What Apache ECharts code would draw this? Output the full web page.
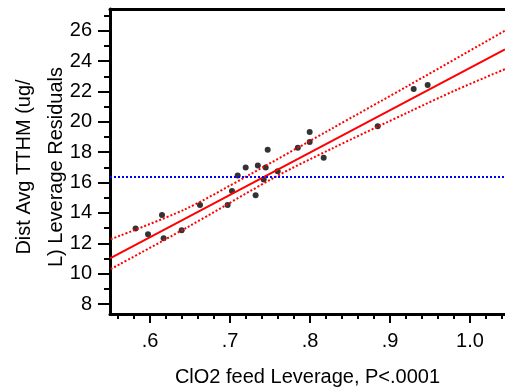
<!DOCTYPE html>
<html>
<head>
<meta charset="utf-8">
<script src="https://cdn.jsdelivr.net/npm/echarts@6/dist/echarts.min.js"></script>
<style>html,body{margin:0;padding:0;background:#fff}#c{width:505px;height:392px}</style>
</head>
<body>
<div id="c"></div>
<script>
// ---- data ----
const ptX = [0.582, 0.5975, 0.615, 0.617, 0.6396, 0.6625, 0.697, 0.7025, 0.7096, 0.7196, 0.732, 0.7348, 0.7421, 0.7446, 0.7471, 0.7596, 0.7848, 0.7996, 0.7996, 0.8171, 0.8846, 0.9296, 0.9471];
const ptY = [12.97, 12.60, 13.86, 12.33, 12.86, 14.52, 14.52, 15.44, 16.47, 17.00, 15.17, 17.13, 16.21, 17.00, 18.16, 16.75, 18.29, 19.33, 18.67, 17.63, 19.71, 22.16, 22.43];
const fitX = [0.55, 1.04375];
const fitY = [11.0, 24.78];
const upperX = [0.5509, 0.6438, 0.7209, 0.825, 0.925, 1.0438];
const upperY = [12.27, 14.24, 16.42, 19.49, 22.45, 26.01];
const lowerX = [0.5509, 0.6438, 0.7584, 0.825, 0.925, 0.9834, 1.0438];
const lowerY = [10.30, 12.97, 16.42, 18.18, 20.69, 22.12, 23.48];
const meanY = 16.41;
const xTickVals = [0.6, 0.7, 0.8, 0.9, 1.0];
const xTickLabels = ['.6', '.7', '.8', '.9', '1.0'];
const xMinorVals = [0.56, 0.58, 0.62, 0.64, 0.66, 0.68, 0.72, 0.74, 0.76, 0.78, 0.82, 0.84, 0.86, 0.88, 0.92, 0.94, 0.96, 0.98, 1.02, 1.04];
const yTickVals = [8, 10, 12, 14, 16, 18, 20, 22, 24, 26];
const yMinorVals = [9, 11, 13, 15, 17, 19, 21, 23, 25, 27];
const xTitle = 'ClO2 feed Leverage, P<.0001';
const yTitle = 'Dist Avg TTHM (ug/\nL) Leverage Residuals';

const X_MIN = 0.55, X_MAX = 1.04375, Y_MIN = 7.34, Y_MAX = 27.44;
const FONT = '"Liberation Sans", Arial, sans-serif';

const zip = (a, b) => a.map((v, i) => [v, b[i]]);

const chart = echarts.init(document.getElementById('c'), null, {renderer: 'canvas'});
chart.setOption({
  animation: false,
  backgroundColor: '#fff',
  grid: {left: 110, right: 0, top: 9, bottom: 77, containLabel: false},
  xAxis: [
    {
      type: 'value', position: 'bottom', min: X_MIN, max: X_MAX,
      splitLine: {show: false},
      axisLine: {show: true, lineStyle: {color: '#000', width: 3}},
      axisTick: {show: true, length: 9, customValues: xTickVals, lineStyle: {color: '#000', width: 2}},
      axisLabel: {
        customValues: xTickVals, margin: 17, color: '#000', fontSize: 20, fontFamily: FONT,
        formatter: v => { const i = xTickVals.findIndex(t => Math.abs(t - v) < 1e-9); return i >= 0 ? xTickLabels[i] : ''; }
      },
      name: xTitle, nameLocation: 'middle', nameGap: 53,
      nameTextStyle: {color: '#000', fontSize: 20, fontFamily: FONT}
    },
    {
      type: 'value', position: 'bottom', min: X_MIN, max: X_MAX,
      splitLine: {show: false},
      axisLine: {show: false},
      axisTick: {show: true, length: 5, customValues: xMinorVals, lineStyle: {color: '#000', width: 2}},
      axisLabel: {show: false}
    },
    {
      type: 'value', position: 'top', min: X_MIN, max: X_MAX,
      splitLine: {show: false},
      axisLine: {show: true, lineStyle: {color: '#000', width: 3}},
      axisTick: {show: false}, axisLabel: {show: false}
    }
  ],
  yAxis: [
    {
      type: 'value', position: 'left', min: Y_MIN, max: Y_MAX,
      splitLine: {show: false},
      axisLine: {show: true, lineStyle: {color: '#000', width: 3}},
      axisTick: {show: true, length: 12, customValues: yTickVals, lineStyle: {color: '#000', width: 2}},
      axisLabel: {customValues: yTickVals, margin: 18, color: '#000', fontSize: 20, fontFamily: FONT}
    },
    {
      type: 'value', position: 'left', min: Y_MIN, max: Y_MAX,
      splitLine: {show: false},
      axisLine: {show: false},
      axisTick: {show: true, length: 6, customValues: yMinorVals, lineStyle: {color: '#000', width: 2}},
      axisLabel: {show: false}
    }
  ],
  graphic: [{
    type: 'text', x: 40, y: 167, rotation: Math.PI / 2,
    style: {
      text: yTitle, fill: '#000', font: '20px ' + FONT,
      textAlign: 'center', textVerticalAlign: 'middle', align: 'center', verticalAlign: 'middle',
      lineHeight: 32
    }
  }],
  series: [
    {
      type: 'line', xAxisIndex: 0, yAxisIndex: 0, data: zip(upperX, upperY), smooth: 0.3,
      showSymbol: false, clip: true, lineStyle: {color: '#ff0000', width: 2, type: [2, 2]}
    },
    {
      type: 'line', xAxisIndex: 0, yAxisIndex: 0, data: zip(lowerX, lowerY), smooth: 0.3,
      showSymbol: false, clip: true, lineStyle: {color: '#ff0000', width: 2, type: [2, 2]}
    },
    {
      type: 'line', xAxisIndex: 0, yAxisIndex: 0, data: zip(fitX, fitY),
      showSymbol: false, clip: true, lineStyle: {color: '#ff0000', width: 2},
      markLine: {
        silent: true, symbol: 'none', label: {show: false},
        lineStyle: {color: '#0000ff', width: 2, type: [2, 2]},
        data: [{yAxis: meanY}]
      }
    },
    {
      type: 'scatter', xAxisIndex: 0, yAxisIndex: 0, data: zip(ptX, ptY),
      symbol: 'circle', symbolSize: 6, itemStyle: {color: '#000'}
    }
  ]
});
</script>
</body>
</html>
